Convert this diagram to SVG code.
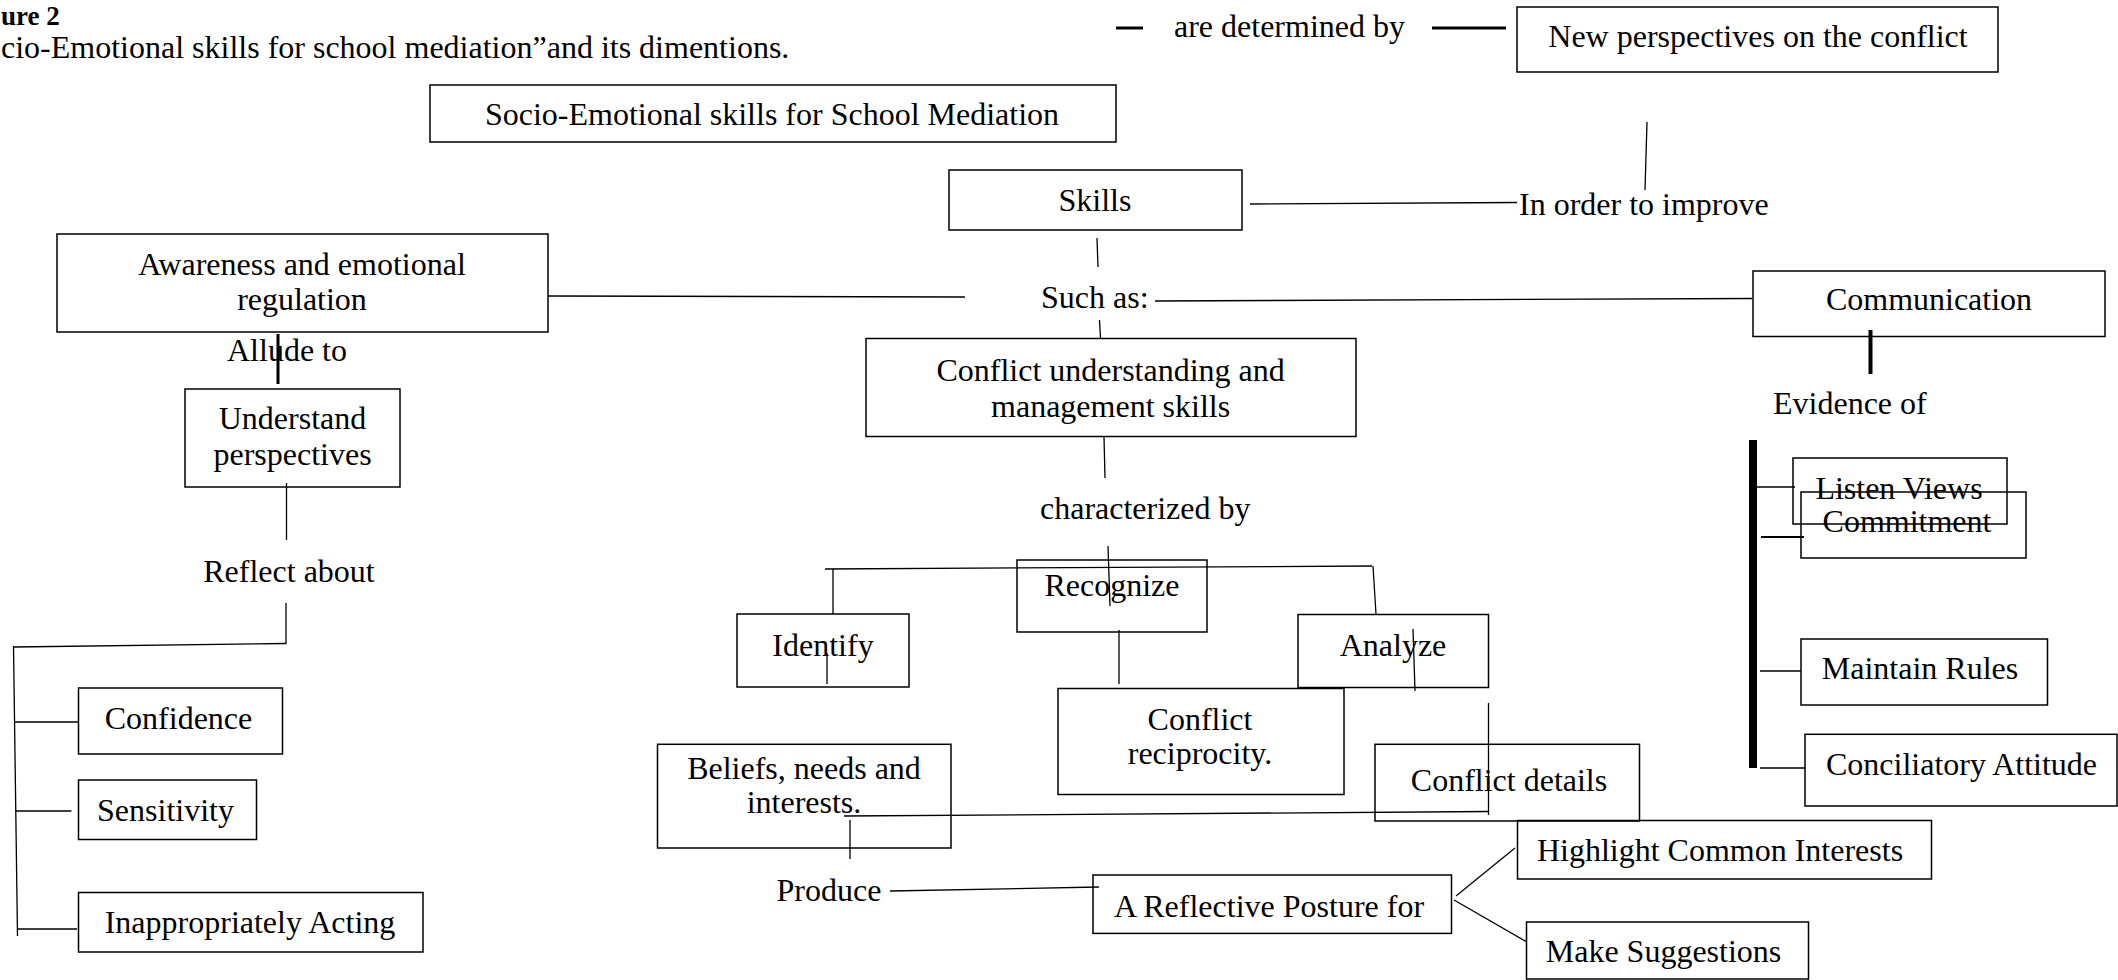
<svg xmlns="http://www.w3.org/2000/svg" width="2118" height="980" viewBox="0 0 2118 980">
<style>
text{font-family:"Liberation Serif","Times New Roman",serif;font-size:32px;fill:#000}
.c{text-anchor:middle}
.b{fill:none;stroke:#000;stroke-width:1.5}
.l{fill:none;stroke:#000;stroke-width:1.3}
.t3{stroke-width:3}
.t4{stroke-width:4}
.t8{stroke-width:8}
.bold{font-weight:bold;font-size:27px}
</style>
<rect width="2118" height="980" fill="#fff"/>
<g id="caption">
<text class="bold" x="1" y="24.5">ure 2</text>
<text x="1" y="58">cio-Emotional skills for school mediation”and its dimentions.</text>
</g>
<g id="connectors">
<line class="l t3" x1="1116" y1="28" x2="1143" y2="28"/>
<line class="l t3" x1="1432" y1="28" x2="1506" y2="28"/>
<line class="l" x1="1647" y1="122" x2="1645" y2="190"/>
<line class="l" x1="1250" y1="204" x2="1517" y2="202.5"/>
<line class="l" x1="1097" y1="238" x2="1098" y2="267"/>
<line class="l" x1="548" y1="296" x2="965" y2="297"/>
<line class="l" x1="1155" y1="301" x2="1752" y2="298.5"/>
<line class="l" x1="1099.5" y1="320" x2="1100.5" y2="338"/>
<line class="l" x1="1104" y1="437" x2="1105" y2="478"/>
<line class="l" x1="1108" y1="546" x2="1110" y2="606"/>
<line class="l" x1="825" y1="569" x2="1372" y2="566"/>
<line class="l" x1="833" y1="569" x2="833" y2="614"/>
<line class="l" x1="1373" y1="566" x2="1376" y2="614"/>
<line class="l" x1="827" y1="653" x2="827" y2="684"/>
<line class="l" x1="1119" y1="630" x2="1119" y2="684"/>
<line class="l" x1="1413" y1="629" x2="1415" y2="691"/>
<line class="l" x1="1488.5" y1="703" x2="1488.5" y2="815"/>
<line class="l" x1="844" y1="816" x2="1488.5" y2="811.5"/>
<line class="l" x1="850" y1="820" x2="850" y2="859"/>
<line class="l" x1="890" y1="891" x2="1099" y2="887"/>
<line class="l" x1="1456" y1="896" x2="1515" y2="848"/>
<line class="l" x1="1454" y1="900" x2="1527" y2="942"/>
<line class="l t3" x1="278" y1="334" x2="278" y2="384"/>
<line class="l" x1="286.5" y1="483" x2="286.5" y2="540"/>
<line class="l" x1="286" y1="603" x2="286" y2="644"/>
<line class="l" x1="13.5" y1="647" x2="286" y2="643.5"/>
<line class="l" x1="13.5" y1="646" x2="17.5" y2="936"/>
<line class="l" x1="14.5" y1="722" x2="78.6" y2="722"/>
<line class="l" x1="15.5" y1="811" x2="71.4" y2="811"/>
<line class="l" x1="17.5" y1="929" x2="77" y2="929"/>
<line class="l t4" x1="1870.5" y1="330" x2="1870.5" y2="374"/>
<line class="l t8" x1="1753" y1="440" x2="1753" y2="768"/>
<line class="l" x1="1757" y1="487" x2="1795" y2="487"/>
<line class="l" style="stroke-width:2" x1="1761" y1="537" x2="1804" y2="537"/>
<line class="l" x1="1760" y1="671" x2="1801" y2="671"/>
<line class="l" x1="1760" y1="768" x2="1805" y2="768"/>
</g>
<g id="label-determined"><text x="1174" y="37">are determined by</text></g>
<g id="label-inorder"><text x="1519" y="215">In order to improve</text></g>
<g id="label-suchas"><text x="1041" y="308">Such as:</text></g>
<g id="label-allude"><text x="227" y="361">Allude to</text></g>
<g id="label-evidence"><text x="1773" y="414">Evidence of</text></g>
<g id="label-characterized"><text x="1040" y="519">characterized by</text></g>
<g id="label-reflect"><text class="c" x="289" y="582">Reflect about</text></g>
<g id="label-produce"><text class="c" x="829" y="901">Produce</text></g>
<g id="node-socio"><rect class="b" x="430" y="85" width="686" height="57"/><text class="c" x="772" y="125">Socio-Emotional skills for School Mediation</text></g>
<g id="node-newp"><rect class="b" x="1517" y="7" width="481" height="65"/><text class="c" x="1758" y="47">New perspectives on the conflict</text></g>
<g id="node-skills"><rect class="b" x="949" y="170" width="293" height="60"/><text class="c" x="1095" y="211">Skills</text></g>
<g id="node-awareness"><rect class="b" x="57" y="234" width="491" height="98"/><text class="c" x="302" y="275">Awareness and emotional</text><text class="c" x="302" y="310">regulation</text></g>
<g id="node-communication"><rect class="b" x="1753" y="271" width="352" height="65.5"/><text class="c" x="1929" y="310">Communication</text></g>
<g id="node-conflictum"><rect class="b" x="866" y="338.5" width="490" height="98"/><text class="c" x="1110.6" y="381">Conflict understanding and</text><text class="c" x="1110.6" y="417">management skills</text></g>
<g id="node-understand"><rect class="b" x="185" y="389" width="215" height="98"/><text class="c" x="292.5" y="429">Understand</text><text class="c" x="292.5" y="465">perspectives</text></g>
<g id="node-listen"><rect class="b" x="1793" y="458" width="214" height="66"/><text class="c" x="1899" y="499">Listen Views</text></g>
<g id="node-commitment"><rect class="b" x="1801" y="492" width="225" height="66"/><text class="c" x="1907" y="532">Commitment</text></g>
<g id="node-recognize"><rect class="b" x="1017" y="560" width="190" height="72"/><text class="c" x="1112" y="596">Recognize</text></g>
<g id="node-identify"><rect class="b" x="737" y="614" width="172" height="73"/><text class="c" x="823" y="656">Identify</text></g>
<g id="node-analyze"><rect class="b" x="1298" y="614.5" width="190.5" height="73"/><text class="c" x="1393" y="656">Analyze</text></g>
<g id="node-maintain"><rect class="b" x="1801" y="639" width="246.5" height="66"/><text class="c" x="1920" y="679">Maintain Rules</text></g>
<g id="node-confidence"><rect class="b" x="78.5" y="688" width="204" height="66"/><text class="c" x="178.5" y="729">Confidence</text></g>
<g id="node-reciprocity"><rect class="b" x="1058" y="688.5" width="286" height="106"/><text class="c" x="1200" y="730">Conflict</text><text class="c" x="1200" y="764">reciprocity.</text></g>
<g id="node-beliefs"><rect class="b" x="657.5" y="744.3" width="293.5" height="103.7"/><text class="c" x="804" y="779">Beliefs, needs and</text><text class="c" x="804" y="813">interests.</text></g>
<g id="node-details"><rect class="b" x="1375" y="744.3" width="264.5" height="76.7"/><text class="c" x="1509" y="791">Conflict details</text></g>
<g id="node-conciliatory"><rect class="b" x="1805" y="734.3" width="312" height="71.7"/><text class="c" x="1961.5" y="775">Conciliatory Attitude</text></g>
<g id="node-sensitivity"><rect class="b" x="78.5" y="780" width="178" height="59.5"/><text class="c" x="165.5" y="821">Sensitivity</text></g>
<g id="node-highlight"><rect class="b" x="1517.5" y="820.5" width="414" height="58.5"/><text class="c" x="1720" y="861">Highlight Common Interests</text></g>
<g id="node-reflective"><rect class="b" x="1093" y="875" width="358.5" height="58.4"/><text class="c" x="1269" y="917">A Reflective Posture for</text></g>
<g id="node-inappropriately"><rect class="b" x="78.5" y="892.5" width="344.5" height="59.5"/><text class="c" x="250" y="933">Inappropriately Acting</text></g>
<g id="node-suggestions"><rect class="b" x="1526.5" y="922" width="282" height="57"/><text class="c" x="1663.5" y="962">Make Suggestions</text></g>
</svg>
